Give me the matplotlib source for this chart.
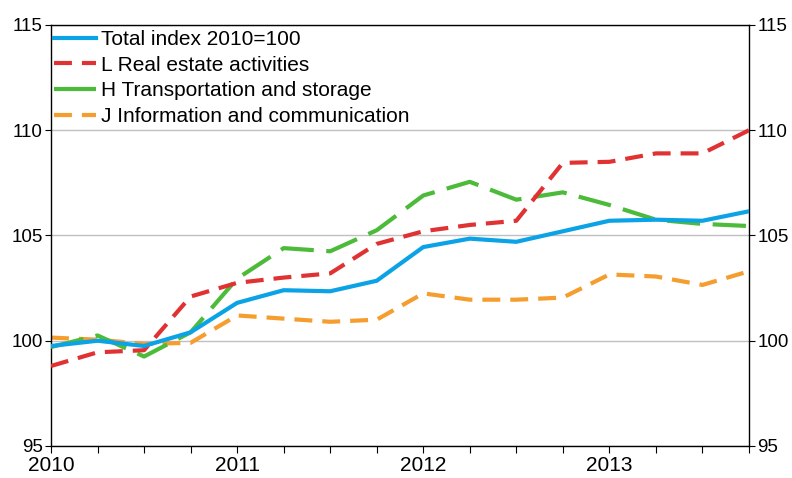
import matplotlib
matplotlib.use("Agg")
import matplotlib.pyplot as plt

# quarterly index values 2010Q1 .. 2013Q4
years = ["2010", "2011", "2012", "2013"]
total = [99.75, 100.0, 99.75, 100.4, 101.8, 102.4, 102.35, 102.85,
         104.45, 104.85, 104.7, 105.2, 105.7, 105.75, 105.7, 106.15]
real_estate = [98.8, 99.45, 99.55, 102.1, 102.75, 103.0, 103.2, 104.6,
               105.2, 105.5, 105.7, 108.45, 108.5, 108.9, 108.9, 110.0]
transport = [99.7, 100.25, 99.25, 100.4, 102.95, 104.4, 104.25, 105.25,
             106.9, 107.55, 106.7, 107.05, 106.45, 105.75, 105.55, 105.45]
info = [100.15, 100.05, 99.85, 99.9, 101.2, 101.05, 100.9, 101.0,
        102.25, 101.95, 101.95, 102.05, 103.15, 103.05, 102.65, 103.3]

plt.rcParams["font.family"] = ["Liberation Sans", "DejaVu Sans"]

fig = plt.figure(figsize=(7.92, 4.78), dpi=100)
ax = fig.add_axes([0.0644, 0.067, 0.8813, 0.8807])

x = list(range(len(total)))
ax.plot(x, total, color="#0BA3E6", lw=3, label="Total index 2010=100", zorder=5)
ax.plot(x, real_estate, color="#E03232", lw=3, dashes=(4.3, 2.4),
        label="L Real estate activities", zorder=4)
ax.plot(x, transport, color="#4CBB3A", lw=3, dashes=(8, 3),
        label="H Transportation and storage", zorder=3)
ax.plot(x, info, color="#F59D2E", lw=3, dashes=(4.3, 2.4),
        label="J Information and communication", zorder=2)

ax.set_xlim(0, 15)
ax.set_ylim(95, 115)
ax.set_yticks([95, 100, 105, 110, 115])
xlabels = []
for i in x:
    xlabels.append(years[i // 4] if i % 4 == 0 else "")
ax.set_xticks(x)
ax.set_xticklabels(xlabels)

ax.grid(axis="y", color="#C0C0C0", lw=1)
ax.set_axisbelow(True)
for s in ax.spines.values():
    s.set_color("black")
    s.set_linewidth(1)
ax.tick_params(axis="y", right=True, labelright=True, direction="out",
               length=4, labelsize=13.5, pad=2)
ax.tick_params(axis="x", direction="out", length=5, labelsize=15, pad=2)

leg = ax.legend(loc="upper left", bbox_to_anchor=(0.002, 0.993), frameon=False,
                fontsize=15, handlelength=2.0, handletextpad=0.25,
                labelspacing=0.32, borderaxespad=0, borderpad=0.1)
# long dash of the transport line fills the whole legend handle
leg.get_lines()[2].set_dashes((14, 3))

fig.savefig("out.png", dpi=100)
